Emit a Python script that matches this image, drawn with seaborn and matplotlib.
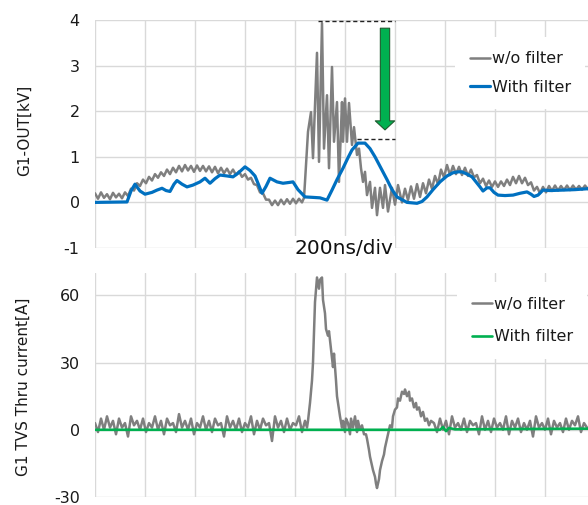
import numpy as np
import pandas as pd
import seaborn as sns
import matplotlib
matplotlib.use("Agg")
import matplotlib.pyplot as plt
from matplotlib.patches import FancyArrowPatch

# ---------------- data (time in ns, 200 ns per division) ----------------
SAMPLE_NS = 12

# Top panel: G1-OUT [kV], without filter (noisy, with ringing)
top_wo_a_start = 0
top_wo_a = [0.20, 0.08, 0.22, 0.10, 0.18, 0.07, 0.21, 0.11, 0.19, 0.09, 0.22, 0.14,
            0.30, 0.26, 0.42, 0.36, 0.50, 0.42, 0.56, 0.48, 0.62, 0.54, 0.66, 0.58,
            0.72, 0.62, 0.76, 0.66, 0.80, 0.68, 0.82, 0.70, 0.80, 0.67, 0.81, 0.69,
            0.80, 0.68, 0.79, 0.66, 0.78, 0.64, 0.76, 0.64, 0.74, 0.62, 0.72, 0.60,
            0.68, 0.56, 0.62, 0.50, 0.54, 0.40, 0.38, 0.22, 0.20, 0.06, 0.06, -0.06,
            0.04, -0.06, 0.06, -0.04, 0.07, -0.03, 0.08, -0.02, 0.08, 0.00]
top_wo_ring_t = [836, 840, 852, 864, 872, 888, 896, 908, 916, 928, 936, 948, 956, 968,
                 976, 988, 992, 1000, 1008, 1016, 1028, 1036, 1048, 1056, 1064, 1072,
                 1080, 1088, 1100, 1108, 1120, 1128, 1140, 1152, 1160, 1172, 1188,
                 1200, 1212, 1228]
top_wo_ring_v = [0.10, 0.45, 1.55, 1.98, 0.97, 3.28, 0.89, 3.93, 1.18, 2.35, 0.75, 2.97,
                 1.33, 2.20, 0.45, 2.20, 1.33, 2.28, 1.33, 2.18, 1.26, 1.65, 1.04, 1.18,
                 0.75, 0.45, 0.67, 0.16, 0.45, -0.12, 0.32, -0.28, 0.32, -0.12, 0.38,
                 -0.20, 0.32, -0.05, 0.38, 0.00]
top_wo_c_start = 1240
top_wo_c = [0.30, 0.05, 0.35, 0.08, 0.40, 0.12, 0.42, 0.20, 0.50, 0.30, 0.58, 0.40,
            0.72, 0.55, 0.82, 0.60, 0.80, 0.62, 0.78, 0.60, 0.76, 0.58, 0.72, 0.55,
            0.60, 0.42, 0.52, 0.36, 0.48, 0.34, 0.46, 0.34, 0.46, 0.36, 0.50, 0.38,
            0.56, 0.42, 0.58, 0.42, 0.54, 0.38, 0.44, 0.26, 0.34, 0.20, 0.34, 0.22,
            0.36, 0.25, 0.37, 0.26, 0.36, 0.27, 0.37, 0.27, 0.37, 0.28, 0.36, 0.28,
            0.37, 0.29]

# Top panel: with filter
top_w_t = [0, 128, 144, 160, 180, 200, 228, 248, 268, 284, 300, 316, 328, 348, 368,
           392, 420, 440, 460, 480, 500, 528, 552, 572, 600, 620, 640, 652, 668, 684,
           700, 728, 752, 780, 792, 812, 840, 872, 900, 928, 948, 968, 992, 1012, 1028,
           1052, 1080, 1100, 1120, 1144, 1168, 1188, 1208, 1248, 1288, 1308, 1328,
           1352, 1380, 1408, 1432, 1452, 1468, 1488, 1508, 1524, 1540, 1552, 1568,
           1580, 1596, 1612, 1640, 1672, 1700, 1728, 1744, 1756, 1772, 1792, 1820,
           1872, 1920, 1972]
top_w_v = [0.00, 0.01, 0.25, 0.40, 0.25, 0.18, 0.22, 0.27, 0.31, 0.26, 0.24, 0.40,
           0.48, 0.40, 0.34, 0.38, 0.45, 0.53, 0.42, 0.52, 0.60, 0.58, 0.56, 0.64,
           0.78, 0.70, 0.58, 0.42, 0.20, 0.35, 0.53, 0.45, 0.42, 0.44, 0.45, 0.28,
           0.12, 0.11, 0.10, 0.05, 0.27, 0.50, 0.75, 0.98, 1.15, 1.30, 1.30, 1.18,
           1.00, 0.75, 0.50, 0.28, 0.12, 0.00, -0.02, 0.02, 0.12, 0.28, 0.45, 0.58,
           0.65, 0.67, 0.67, 0.62, 0.56, 0.45, 0.34, 0.25, 0.32, 0.32, 0.22, 0.16,
           0.15, 0.16, 0.20, 0.23, 0.18, 0.13, 0.16, 0.27, 0.26, 0.27, 0.28, 0.30]

# Bottom panel: G1 TVS current [A], without filter
bot_wo_a_start = 0
bot_wo_a = [3, -1, 5, 0, 6, 1, 4, -2, 5, 1, 3, -3, 6, 2, 4, 0, 5, -1, 3, 1,
            6, 0, 4, -2, 5, 2, 3, -1, 7, 1, 4, 0, 5, -2, 3, 1, 6, 0, 4, -1,
            5, 2, 3, -3, 6, 1, 4, 0, 5, -1, 3, 1, 6, -2, 4, 0, 5, 2, 3, -5,
            6, 1, 4, -1, 5, 0, 3, 2, 6, -1, 4]
bot_wo_peak_t = [848, 852, 860, 868, 872, 880, 888, 896, 900, 908, 912, 920, 924, 932,
                 936, 944, 952, 956, 964, 968, 976, 980, 988, 992, 1000, 1004, 1012,
                 1020, 1024, 1032, 1040, 1048, 1052, 1060, 1068, 1076, 1084, 1088,
                 1096, 1100, 1108, 1112, 1120, 1124, 1128, 1136, 1140, 1148, 1156,
                 1160, 1168, 1172, 1180, 1188, 1192, 1200, 1208, 1212, 1220, 1228,
                 1236, 1240, 1248, 1256, 1260, 1268, 1276, 1284, 1288, 1296, 1304,
                 1312, 1320, 1328, 1336, 1344]
bot_wo_peak_v = [1, 4, 12, 22, 30, 57, 68, 63, 67, 68, 58, 52, 45, 42, 44, 36, 28, 34,
                 22, 15, 9, 6, 1, 4, -1, 5, 3, -2, 5, 1, 6, -1, 4, 0, 2, -2, -2, -4,
                 -9, -12, -16, -18, -21, -24, -26, -22, -18, -14, -11, -8, -4, -2, 2,
                 1, 6, 9, 10, 14, 13, 17, 16, 18, 15, 17, 13, 14, 10, 12, 9, 10, 6,
                 8, 4, 5, 2, 4]
bot_wo_c_start = 1356
bot_wo_c = [3, -1, 5, 0, 4, -2, 6, 1, 3, 0, 5, -1, 4, 2, 3, -2, 6, 0, 4, -1,
            5, 1, 3, 0, 6, -2, 4, 1, 5, -1, 3, 0, 4, -3, 6, 1, 3, 0, 5, -2,
            4, 1, 3, -1, 5, 0, 4, 2, 6, -1, 3, 1]

# Bottom panel: with filter
bot_w_t = [0, 1380, 1392, 1404, 1416, 1440, 1972]
bot_w_v = [0.0, 0.0, 1.2, -0.6, 0.8, 0.2, 0.5]

labels = ["w/o filter", "With filter"]
top_yticks = [-1, 0, 1, 2, 3, 4]
bot_yticks = [-30, 0, 30, 60]
x_ticks = [0, 200, 400, 600, 800, 1000, 1200, 1400, 1600, 1800]


def seg(start, vals):
    return list(start + SAMPLE_NS * np.arange(len(vals))), list(vals)


ta, va = seg(top_wo_a_start, top_wo_a)
tc, vc = seg(top_wo_c_start, top_wo_c)
df_top_wo = pd.DataFrame({"t": ta + top_wo_ring_t + tc, "v": va + top_wo_ring_v + vc})
df_top_w = pd.DataFrame({"t": top_w_t, "v": top_w_v})

ba, bva = seg(bot_wo_a_start, bot_wo_a)
bc, bvc = seg(bot_wo_c_start, bot_wo_c)
df_bot_wo = pd.DataFrame({"t": ba + bot_wo_peak_t + bc, "v": bva + bot_wo_peak_v + bvc})
df_bot_w = pd.DataFrame({"t": bot_w_t, "v": bot_w_v})

# ---------------- styling ----------------
sns.set_style("white")
plt.rcParams["font.family"] = ["DejaVu Sans"]

GRAY = "#7f7f7f"
BLUE = "#0070c0"
GREEN = "#00b050"
GRID = "#d9d9d9"
TXT = "#1a1a1a"

fig = plt.figure(figsize=(5.88, 5.05), dpi=100)
ax1 = fig.add_axes([95 / 588, 1 - 248 / 505, 1 - 95 / 588, 228 / 505])
ax2 = fig.add_axes([95 / 588, 1 - 497 / 505, 1 - 95 / 588, 224 / 505])

sns.lineplot(data=df_top_wo, x="t", y="v", ax=ax1, color=GRAY, linewidth=1.8,
             estimator=None, sort=False, label=labels[0])
sns.lineplot(data=df_top_w, x="t", y="v", ax=ax1, color=BLUE, linewidth=2.3,
             estimator=None, sort=False, label=labels[1])
sns.lineplot(data=df_bot_wo, x="t", y="v", ax=ax2, color=GRAY, linewidth=1.8,
             estimator=None, sort=False, label=labels[0])
sns.lineplot(data=df_bot_w, x="t", y="v", ax=ax2, color=GREEN, linewidth=1.9,
             estimator=None, sort=False, label=labels[1])

for ax, yt, ylim in [(ax1, top_yticks, (-1, 4)), (ax2, bot_yticks, (-30, 70))]:
    ax.set_xlim(0, 1972)
    ax.set_ylim(*ylim)
    ax.set_xticks(x_ticks)
    ax.set_xticklabels([])
    ax.set_yticks(yt)
    ax.set_yticklabels([str(v) for v in yt], fontsize=11.5, color=TXT)
    ax.tick_params(axis="both", length=0, pad=11)
    ax.grid(True, color=GRID, linewidth=1.0)
    ax.set_axisbelow(True)
    for s in ax.spines.values():
        s.set_visible(False)
    ax.set_xlabel("")

ax1.set_ylabel("G1-OUT[kV]", fontsize=11, color=TXT)
ax1.yaxis.set_label_coords(-0.128, 0.518)
ax2.set_ylabel("G1 TVS Thru current[A]", fontsize=11, color=TXT)
ax2.yaxis.set_label_coords(-0.13, 0.493)

leg1 = ax1.legend(loc="upper left", bbox_to_anchor=(0.731, 0.925), frameon=True,
                  fontsize=11.5, handlelength=1.25, handletextpad=0.12,
                  labelspacing=0.85, borderpad=0.9, borderaxespad=0)
leg2 = ax2.legend(loc="upper left", bbox_to_anchor=(0.735, 0.958), frameon=True,
                  fontsize=11.5, handlelength=1.25, handletextpad=0.12,
                  labelspacing=1.1, borderpad=0.9, borderaxespad=0)
for lg in (leg1, leg2):
    fr = lg.get_frame()
    fr.set_facecolor("white")
    fr.set_edgecolor("none")
    fr.set_alpha(1)
    fr.set_boxstyle("square", pad=0)
    for t in lg.get_texts():
        t.set_color(TXT)

# "200ns/div" label sitting on the top panel's bottom line
ax1.text(996, -1, "200ns/div", ha="center", va="center", fontsize=14.5,
         color="#111111", clip_on=False, zorder=5,
         bbox=dict(facecolor="white", edgecolor="none", pad=1.5))

# Dashed reference lines and reduction arrow
ax1.hlines(3.97, 892, 1200, colors="#222222", linestyles=(0, (3, 2)), linewidth=1.0, zorder=4)
ax1.hlines(1.39, 1048, 1200, colors="#222222", linestyles=(0, (3, 2)), linewidth=1.0, zorder=4)
arrow = FancyArrowPatch((1160, 3.82), (1160, 1.59),
                        arrowstyle="simple,head_width=14,head_length=6.5,tail_width=6.7",
                        mutation_scale=1, shrinkA=0, shrinkB=0,
                        facecolor=GREEN, edgecolor="#1e5b2e", linewidth=0.8, zorder=6)
ax1.add_patch(arrow)

fig.savefig("out.png", dpi=100)
